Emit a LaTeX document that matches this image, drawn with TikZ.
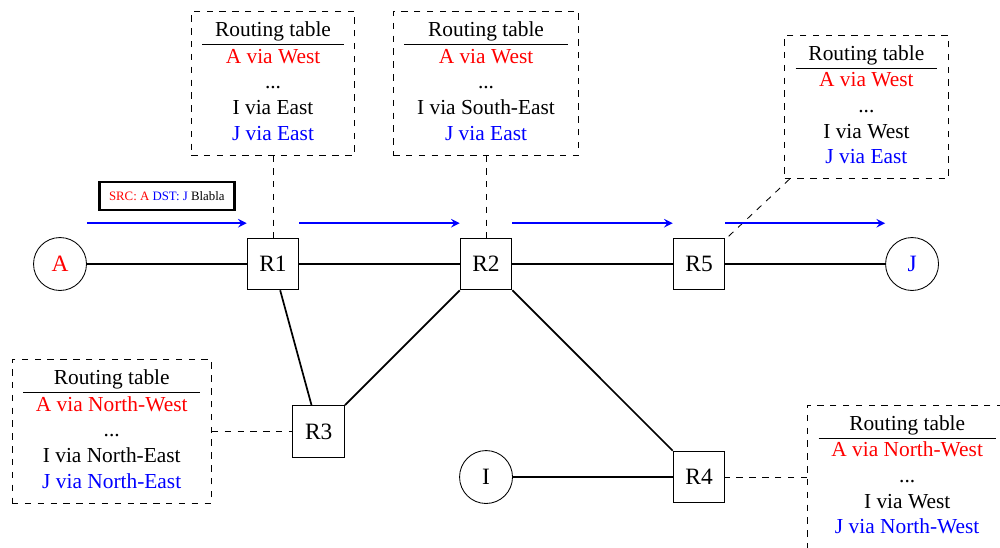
\documentclass[tikz,border=0pt]{standalone}
\usepackage{fontspec}
\setmainfont{Liberation Serif}

\newcommand{\nodefont}{\fontsize{10.95}{13.6}\selectfont}
\newcommand{\tablefont}{\fontsize{10}{12}\selectfont}
\newcommand{\msgfont}{\fontsize{6}{7}\selectfont}

\begin{document}
\begin{tikzpicture}[
    router/.style={shape=rectangle,draw=black,minimum size=0.85cm,font=\nodefont},
    host/.style={shape=circle,draw=black,minimum size=0.87cm,font=\nodefont},
    rtable/.style={draw=black,dashed,inner xsep=5.2pt,font=\tablefont},
    flow/.style={blue,thick,-stealth}
]
            \useasboundingbox (-0.986,-4.666) rectangle (15.445,4.338);

            \node[host] (A) at (0,0) {\textcolor{red}{A}};
            \node[router] (R1) at (3.5,0) {R1};
            \node[router] (R2) at (7,0) {R2};
            \node[router] (R5) at (10.5,0) {R5};
            \node[host] (J) at (14,0) {\textcolor{blue}{J}};
            \node[router] (R3) at (4.25,-2.75) {R3};
            \node[host] (I) at (7,-3.5) {I};
            \node[router] (R4) at (10.5,-3.5) {R4};

            % routing tables
            \node[rtable] (T1) at (3.5,2.97) {\begin{tabular}{c}
                Routing table\\ \hline
                \textcolor{red}{A via West}\\
                ...\\
                I via East\\
                \textcolor{blue}{J via East}
            \end{tabular}};
            \node[rtable] (T2) at (7,2.97) {\begin{tabular}{c}
                Routing table\\ \hline
                \textcolor{red}{A via West}\\
                ...\\
                I via South-East\\
                \textcolor{blue}{J via East}
            \end{tabular}};
            \node[rtable] (T5) at (13.25,2.58) {\begin{tabular}{c}
                Routing table\\ \hline
                \textcolor{red}{A via West}\\
                ...\\
                I via West\\
                \textcolor{blue}{J via East}
            \end{tabular}};
            \node[rtable] (T3) at (0.85,-2.75) {\begin{tabular}{c}
                Routing table\\ \hline
                \textcolor{red}{A via North-West}\\
                ...\\
                I via North-East\\
                \textcolor{blue}{J via North-East}
            \end{tabular}};
            \node[rtable] (T4) at (13.92,-3.5) {\begin{tabular}{c}
                Routing table\\ \hline
                \textcolor{red}{A via North-West}\\
                ...\\
                I via West\\
                \textcolor{blue}{J via North-West}
            \end{tabular}};

            \path[thick] (A) edge (R1);
            \path[thick] (R1) edge (R2);
            \path[thick] (R2) edge (R5);
            \path[thick] (R5) edge (J);
            \path[thick] (R1) edge (R3);
            \path[thick] (R3) edge (R2);
            \path[thick] (R2) edge (R4);
            \path[thick] (I) edge (R4);

            \path[dashed] (T1) edge (R1);
            \path[dashed] (T2) edge (R2);
            \path[dashed] (T5) edge (R5);
            \path[dashed] (T3) edge (R3);
            \path[dashed] (T4) edge (R4);

            % packet flow
            \draw[flow] ([yshift=0.67cm]A.east) -- node[above=5.5pt,draw=black,very thick,inner sep=4.5pt,font=\msgfont] (msg)
                {\textcolor{red}{SRC: A} \textcolor{blue}{DST: J} \textcolor{black}{Blabla}} ([yshift=0.67cm]R1.west);
            \draw[flow] ([yshift=0.67cm]R1.east) -- ([yshift=0.67cm]R2.west);
            \draw[flow] ([yshift=0.67cm]R2.east) -- ([yshift=0.67cm]R5.west);
            \draw[flow] ([yshift=0.67cm]R5.east) -- ([yshift=0.67cm]J.west);

        \end{tikzpicture}
\end{document}
